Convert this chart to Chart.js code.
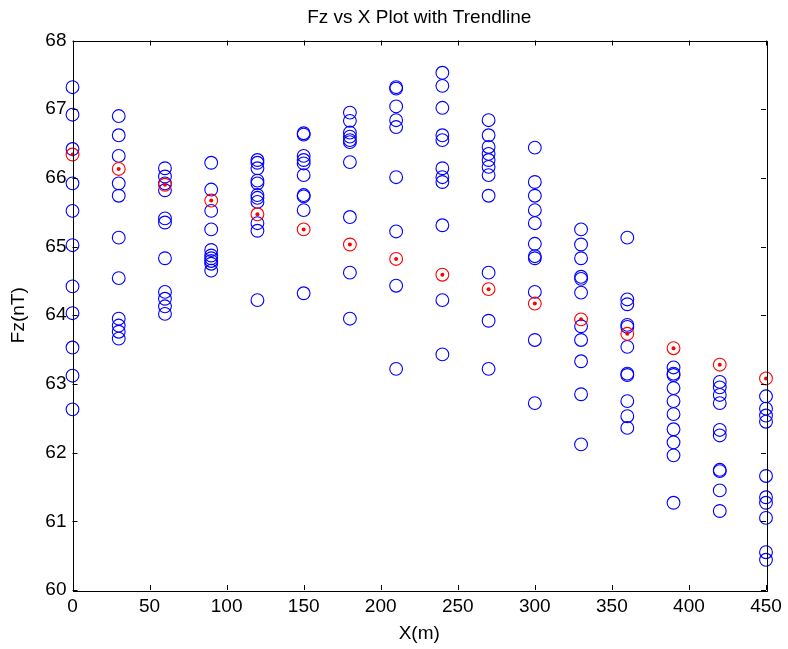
<!DOCTYPE html>
<html>
<head>
<meta charset="utf-8">
<script src="https://cdn.jsdelivr.net/npm/chart.js@4.4.1/dist/chart.umd.min.js"></script>
<style>
  html, body { margin: 0; padding: 0; background: #ffffff; }
  #wrap { width: 788px; height: 649px; }
</style>
</head>
<body>
<div id="wrap"><canvas id="c" width="788" height="649"></canvas></div>
<script>
// ---- data ----
const xPositions = [0, 30, 60, 90, 120, 150, 180, 210, 240, 270, 300, 330, 360, 390, 420, 450];
const xTickValues = [0, 50, 100, 150, 200, 250, 300, 350, 400, 450];
const yTickValues = [60, 61, 62, 63, 64, 65, 66, 67, 68];

const fzAt0   = [67.32, 66.92, 66.42, 65.92, 65.52, 65.02, 64.42, 64.03, 63.53, 63.12, 62.63];
const fzAt30  = [66.90, 66.62, 66.32, 65.92, 65.74, 65.13, 64.54, 63.95, 63.85, 63.76, 63.66];
const fzAt60  = [66.14, 66.02, 65.92, 65.82, 65.41, 65.35, 64.83, 64.34, 64.24, 64.13, 64.02];
const fzAt90  = [66.22, 65.83, 65.52, 65.25, 64.95, 64.87, 64.83, 64.79, 64.75, 64.65];
const fzAt120 = [66.26, 66.22, 66.14, 65.96, 65.92, 65.75, 65.71, 65.65, 65.34, 65.23, 64.22];
const fzAt150 = [66.65, 66.63, 66.32, 66.26, 66.21, 66.04, 65.75, 65.73, 65.53, 64.32];
const fzAt180 = [66.95, 66.83, 66.66, 66.60, 66.55, 66.52, 66.23, 65.43, 64.62, 63.95];
const fzAt210 = [67.32, 67.30, 67.04, 66.84, 66.74, 66.01, 65.22, 64.43, 63.22];
const fzAt240 = [67.53, 67.34, 67.02, 66.62, 66.55, 66.14, 66.01, 65.94, 65.31, 64.22, 63.43];
const fzAt270 = [66.84, 66.62, 66.45, 66.35, 66.26, 66.16, 66.04, 65.74, 64.62, 63.92, 63.22];
const fzAt300 = [66.44, 65.94, 65.74, 65.53, 65.34, 65.04, 64.86, 64.83, 64.34, 63.64, 62.72];
const fzAt330 = [65.25, 65.03, 64.83, 64.56, 64.53, 64.33, 63.84, 63.64, 63.33, 62.85, 62.12];
const fzAt360 = [65.13, 64.23, 64.16, 63.86, 63.83, 63.54, 63.15, 63.13, 62.75, 62.53, 62.36];
const fzAt390 = [63.24, 63.15, 63.13, 62.94, 62.75, 62.56, 62.34, 62.15, 61.96, 61.27];
const fzAt420 = [63.03, 62.95, 62.84, 62.72, 62.33, 62.25, 61.75, 61.73, 61.45, 61.15];
const fzAt450 = [62.82, 62.64, 62.54, 62.45, 61.66, 61.35, 61.27, 61.05, 60.55, 60.44];

const trendFz = [66.34, 66.13, 65.90, 65.67, 65.47, 65.25, 65.03, 64.82, 64.59, 64.38, 64.17, 63.94, 63.73, 63.52, 63.28, 63.08];

const titleText = 'Fz vs X Plot with Trendline';
const xTitle = 'X(m)';
const yTitle = 'Fz(nT)';

// ---- build points ----
const columns = [fzAt0, fzAt30, fzAt60, fzAt90, fzAt120, fzAt150, fzAt180, fzAt210,
                 fzAt240, fzAt270, fzAt300, fzAt330, fzAt360, fzAt390, fzAt420, fzAt450];
const measured = [];
columns.forEach((col, i) => col.forEach(v => measured.push({ x: xPositions[i], y: v })));
const trendPts = trendFz.map((v, i) => ({ x: xPositions[i], y: v }));

const FONT = 'Liberation Sans, Arial, sans-serif';

const titlePlugin = {
  id: 'topTitle',
  afterDraw(chart) {
    const { ctx, chartArea } = chart;
    ctx.save();
    ctx.fillStyle = '#000';
    ctx.font = '19px ' + FONT;
    ctx.textAlign = 'center';
    ctx.textBaseline = 'middle';
    ctx.fillText(titleText, (chartArea.left + chartArea.right) / 2, 18);
    ctx.restore();
  }
};

const framePlugin = {
  id: 'frame',
  afterDatasetsDraw(chart) {
    const { ctx, chartArea: a, scales } = chart;
    const tl = 5;
    ctx.save();
    ctx.strokeStyle = '#000';
    ctx.lineWidth = 1;
    ctx.strokeRect(Math.round(a.left) + 0.5, Math.round(a.top) + 0.5,
                   Math.round(a.right - a.left), Math.round(a.bottom - a.top));
    ctx.beginPath();
    xTickValues.forEach(v => {
      const px = Math.round(scales.x.getPixelForValue(v)) + 0.5;
      ctx.moveTo(px, a.bottom); ctx.lineTo(px, a.bottom - tl);
      ctx.moveTo(px, a.top); ctx.lineTo(px, a.top + tl);
    });
    yTickValues.forEach(v => {
      const py = Math.round(scales.y.getPixelForValue(v)) + 0.5;
      ctx.moveTo(a.left, py); ctx.lineTo(a.left + tl, py);
      ctx.moveTo(a.right, py); ctx.lineTo(a.right - tl, py);
    });
    ctx.stroke();
    ctx.restore();
  }
};

new Chart(document.getElementById('c'), {
  type: 'scatter',
  data: {
    datasets: [
      {
        label: 'Fz',
        data: measured,
        pointStyle: 'circle',
        pointRadius: 6.4,
        pointBorderWidth: 1.1,
        borderColor: '#0000ff',
        backgroundColor: 'rgba(0,0,0,0)',
        clip: false,
        order: 3
      },
      {
        label: 'Trend ring',
        data: trendPts,
        pointStyle: 'circle',
        pointRadius: 6.4,
        pointBorderWidth: 1.1,
        borderColor: '#ff0000',
        backgroundColor: 'rgba(0,0,0,0)',
        clip: false,
        order: 2
      },
      {
        label: 'Trend',
        data: trendPts,
        pointStyle: 'circle',
        pointRadius: 2,
        pointBorderWidth: 0,
        borderColor: '#ff0000',
        backgroundColor: '#ff0000',
        clip: false,
        order: 1
      }
    ]
  },
  options: {
    responsive: false,
    animation: false,
    devicePixelRatio: 1,
    layout: { padding: { top: 40.5, right: 22, left: 0, bottom: 0 } },
    plugins: {
      legend: { display: false },
      title: { display: false },
      tooltip: { enabled: false }
    },
    scales: {
      x: {
        type: 'linear',
        min: 0, max: 450,
        afterFit(s) { s.height = 59; },
        afterBuildTicks(s) { s.ticks = xTickValues.map(v => ({ value: v })); },
        ticks: { color: '#000', font: { family: FONT, size: 19 }, padding: 5, maxRotation: 0 },
        grid: { display: false, drawTicks: false },
        border: { display: false },
        title: { display: true, text: xTitle, color: '#000', font: { family: FONT, size: 19 }, padding: { top: 0, bottom: 4 } }
      },
      y: {
        type: 'linear',
        min: 60, max: 68,
        afterFit(s) { s.width = 72.5; },
        afterBuildTicks(s) { s.ticks = yTickValues.map(v => ({ value: v })); },
        ticks: { color: '#000', font: { family: FONT, size: 19 }, padding: 6 },
        grid: { display: false, drawTicks: false },
        border: { display: false },
        title: { display: true, text: yTitle, color: '#000', font: { family: FONT, size: 19 }, padding: { top: 7, bottom: 0 } }
      }
    }
  },
  plugins: [titlePlugin, framePlugin]
});
</script>
</body>
</html>
